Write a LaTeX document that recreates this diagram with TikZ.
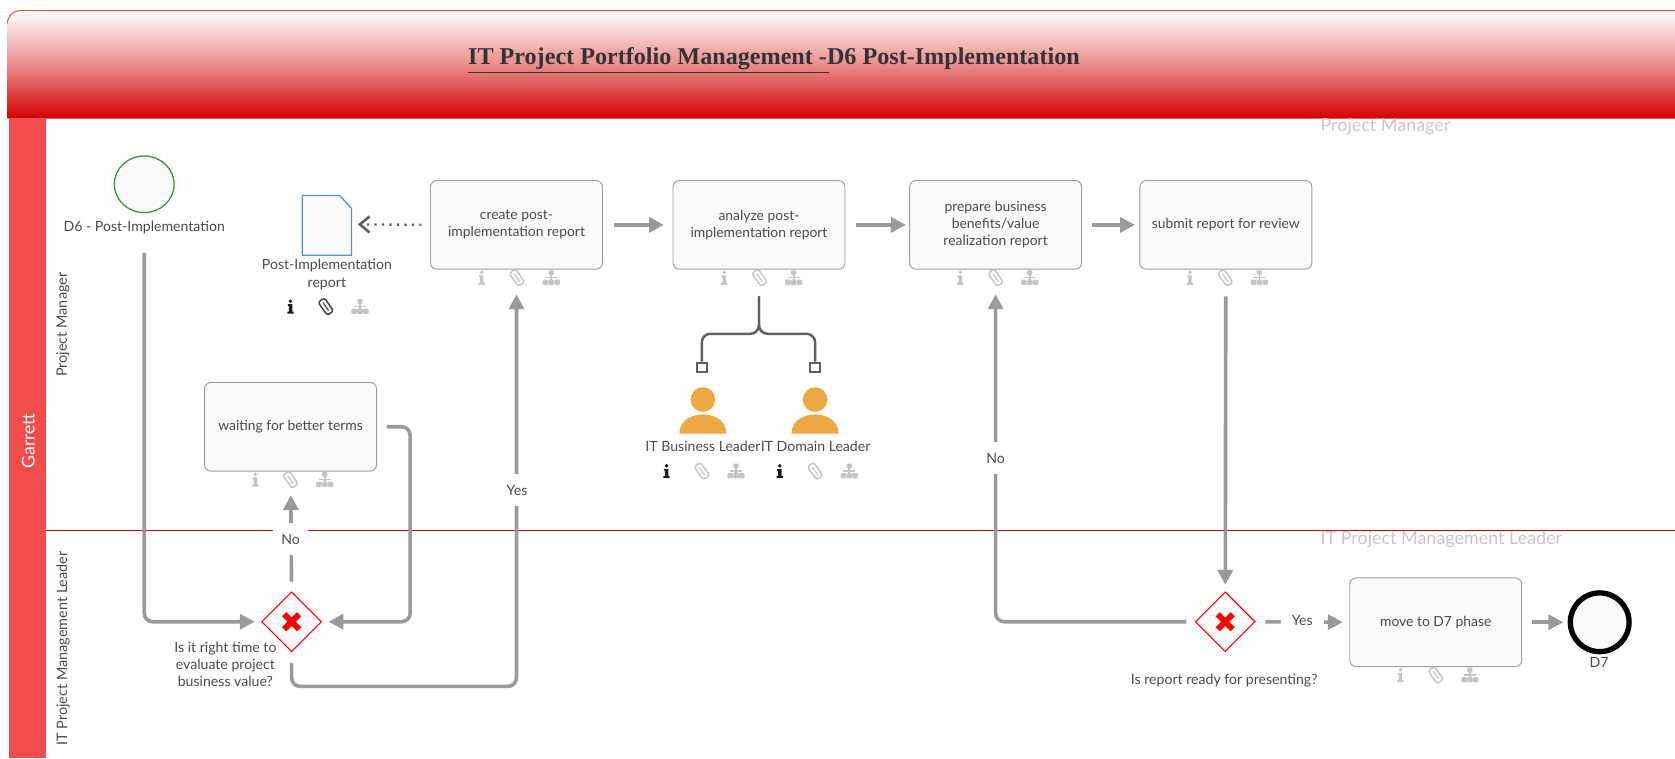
\documentclass[tikz,border=0pt]{standalone}
\usepackage{fontspec}
\setmainfont{Lato}
\newfontfamily\titlefont{Liberation Serif}
\usetikzlibrary{arrows.meta,shapes.geometric,calc}
\definecolor{hdred}{HTML}{D40000}
\definecolor{hdline}{HTML}{E05A5A}
\definecolor{bandred}{HTML}{F04C4C}
\definecolor{flow}{HTML}{9A9A9A}
\definecolor{txt}{HTML}{4A4A4A}
\definecolor{icongrey}{HTML}{C4C4C4}
\definecolor{iconblack}{HTML}{1C1C1C}
\definecolor{orangeperson}{HTML}{EBA843}
\definecolor{assoc}{HTML}{606060}
\definecolor{boxfill}{HTML}{FAFAFA}
\tikzset{
  tasknode/.style={draw=black!38,fill=boxfill,line width=0.9pt,rounded corners=6pt,minimum width=161pt,minimum height=83pt,align=center,text=txt,inner sep=4pt,font=\fontsize{13}{16}\selectfont},
  gatenode/.style={diamond,draw=red,fill=boxfill,line width=1pt,minimum width=56pt,minimum height=56pt,inner sep=0pt,shape aspect=1},
  lab/.style={text=txt,align=center,inner sep=0pt,font=\fontsize{13.2}{16}\selectfont},
  flowlab/.style={fill=white,text=txt,inner sep=3pt,minimum width=32pt,minimum height=30pt,font=\fontsize{13.2}{16}\selectfont},
  lanelab/.style={text=txt,rotate=90,inner sep=0pt,font=\fontsize{13.5}{16}\selectfont},
  toplab/.style={text=black!22,anchor=west,inner sep=0pt,font=\fontsize{16.8}{18}\selectfont},
  flowline/.style={draw=flow,line width=3.4pt,rounded corners=8pt,-{Triangle[length=14pt,width=14pt]}},
  assocline/.style={draw=assoc,line width=2.3pt,rounded corners=8pt},
  assocend/.style={draw=assoc,fill=white,line width=1.8pt,minimum size=9pt,inner sep=0pt},
}
\newcommand\iconinfo[3]{\begin{scope}[shift={(#1,#2)}]
  \fill[#3] (0,-5) circle (1.8pt);
  \fill[#3] (-2.6,-2.2)--(1.6,-2.2)--(1.6,4.6)--(2.9,4.6)--(2.9,6.6)--(-3.1,6.6)--(-3.1,4.6)--(-1.6,4.6)--(-1.6,-0.4)--(-2.6,-0.4)--cycle;
\end{scope}}
\newcommand\iconclip[3]{\begin{scope}[shift={(#1,#2)},rotate=-55]
  \draw[#3,line width=1.4pt,rounded corners=2.5pt] (-7.5,-3.6) rectangle (7.5,3.6);
  \draw[#3,line width=1.1pt] (-4.5,0)--(4.5,0);
\end{scope}}
\newcommand\icontree[3]{\begin{scope}[shift={(#1,#2)}]
  \fill[#3,rounded corners=1pt] (-2.4,-7) rectangle (2.4,-2.6);
  \fill[#3] (-0.8,-3) rectangle (0.8,2);
  \fill[#3] (-5.8,-0.6) rectangle (5.8,0.6);
  \fill[#3,rounded corners=1pt] (-8,1.8) rectangle (-2.9,6.8);
  \fill[#3,rounded corners=1pt] (-2.6,1.8) rectangle (2.6,6.8);
  \fill[#3,rounded corners=1pt] (2.9,1.8) rectangle (8,6.8);
\end{scope}}
\newcommand\iconrow[4]{\iconinfo{#1-33}{#2}{#3}\iconclip{#1}{#2}{icongrey}\icontree{#1+32}{#2}{icongrey}}
\newcommand\redcross[1]{\draw[red,line width=5.5pt] ($(#1)+(-7,-7)$)--($(#1)+(7,7)$) ($(#1)+(-7,7)$)--($(#1)+(7,-7)$);}
\begin{document}
\begin{tikzpicture}[x=1pt,y=-1pt]
\useasboundingbox (0,0) rectangle (1568,710);
% frame
\shade[top color=white,bottom color=hdred,middle color=hdred!45!white] (7,111) -- (7,22) .. controls (7,15) and (12,10) .. (19,10) -- (1568,10) -- (1568,111) -- cycle;
\draw[hdline,line width=1pt] (7,22) .. controls (7,15) and (12,10) .. (19,10) -- (1568,10);
\fill[bandred] (8,111) rectangle (43,710);
\draw[red!90!black,line width=0.9pt] (43,497) -- (1568,497);
\node[text=white,rotate=90,inner sep=0pt,font=\fontsize{16.5}{18}\selectfont] (garrett) at (26.5,412.5) {Garrett};
\node[text=black!80,anchor=base west,inner sep=0pt,font=\titlefont\bfseries\fontsize{22.6}{24}\selectfont] (title) at (438,60) {IT Project Portfolio Management -D6 Post-Implementation};
\draw[black!80,line width=1pt] (438,68) -- (776,68);
\node[lanelab] (lane1) at (59,304) {Project Manager};
\node[lanelab] (lane2) at (59,607) {IT Project Management Leader};
\node[toplab] (top1) at (1236,118.5) {Project Manager};
\node[toplab] (top2) at (1236,505.5) {IT Project Management Leader};
% nodes
\node[ellipse,draw=black!50!green!80!white,fill=boxfill,line width=1.2pt,minimum width=56pt,minimum height=53pt,inner sep=0pt] (start) at (135,172.5) {};
\node[lab] (startlab) at (135,213) {D6 - Post-Implementation};
\node[tasknode] (create) at (483.5,210.5) {create post-\\implementation report};
\node[tasknode] (analyze) at (710.5,210.5) {analyze post-\\implementation report};
\node[tasknode] (prepare) at (932,210.5) {prepare business\\benefits/value\\realization report};
\node[tasknode] (submit) at (1147.5,210.5) {submit report for review};
\node[tasknode] (waiting) at (272,399.5) {waiting for better terms};
\node[tasknode] (move) at (1344,582.5) {move to D7 phase};
\node[gatenode] (gw1) at (273,582) {};
\node[gatenode] (gw2) at (1147,582) {};
\redcross{gw1}
\redcross{gw2}
\node[circle,draw=black,fill=boxfill,line width=5pt,minimum size=55pt,inner sep=0pt] (end) at (1497.5,582.5) {};
\node[lab] (endlab) at (1497,620) {D7};
\node[lab] (gw1lab) at (211,622) {Is it right time to\\evaluate project\\business value?};
\node[lab] (gw2lab) at (1146,637) {Is report ready for presenting?};
% document
\draw[draw=cyan!55!blue!70!white,fill=boxfill,line width=1.2pt] (283,183) -- (318,183) -- (329,195) -- (329,239) -- (283,239) -- cycle;
\coordinate (docright) at (329,210);
\node[lab] (doclab) at (306,257) {Post-Implementation\\report};
% connectors
\draw[flowline,shorten <=10pt,shorten >=8pt] (create.east) -- (analyze.west);
\draw[flowline,shorten <=10pt,shorten >=3pt] (analyze.east) -- (prepare.west);
\draw[flowline,shorten <=9pt,shorten >=4pt] (prepare.east) -- (submit.west);
\draw[flowline,shorten <=37pt,shorten >=6pt] (start.south) |- (gw1.west);
\draw[flowline,shorten <=9pt,shorten >=6pt] (waiting.east) -- ++(31,0) |- (gw1.east);
\draw[flowline,shorten <=9pt,shorten >=22pt] (gw1.north) -- (waiting.south);
\draw[flowline,shorten <=10pt,shorten >=23pt] (gw1.south) -- ++(0,32) -| (create.south);
\draw[flowline,shorten <=25pt,shorten >=6pt] (submit.south) -- (gw2.north);
\draw[flowline,shorten <=8pt,shorten >=23pt] (gw2.west) -| (prepare.south);
\draw[flowline,shorten <=9pt,shorten >=6pt] (gw2.east) -- (move.west);
\draw[flowline,shorten <=9pt,shorten >=4pt] (move.east) -- (end.west);
\draw[draw=assoc,line width=2.2pt,dash pattern=on 2pt off 5pt,shorten <=8pt,shorten >=6pt,-{Straight Barb[length=9pt,width=15pt,line width=2.5pt]}] (create.west) -- (docright);
\node[flowlab] (no1) at (272,505) {No};
\node[flowlab] (yes1) at (484,459) {Yes};
\node[flowlab] (no2) at (932,429) {No};
\node[flowlab,minimum width=40pt] (yes2) at (1219,581) {Yes};
% resources
\node[assocend] (sq1) at (657,344) {};
\node[assocend] (sq2) at (763,344) {};
\draw[assocline,shorten <=25pt] (analyze.south) -- ++(0,60) -| (sq1.north);
\draw[assocline,shorten <=25pt] (analyze.south) -- ++(0,60) -| (sq2.north);
\foreach \px/\pn in {658/p1,763/p2}{
  \node[circle,fill=orangeperson,minimum size=23pt,inner sep=0pt] (\pn) at (\px,374) {};
  \fill[orangeperson] (\px-22,406) .. controls (\px-22,393) and (\px-10,388) .. (\px,388) .. controls (\px+10,388) and (\px+22,393) .. (\px+22,406) -- cycle;
}
\node[lab] (p1lab) at (658,418) {IT Business Leader};
\node[lab] (p2lab) at (763.5,418) {IT Domain Leader};
% icons
\iconrow{484}{260}{icongrey}{}
\iconrow{711}{260}{icongrey}{}
\iconrow{932}{260}{icongrey}{}
\iconrow{1147}{260}{icongrey}{}
\iconrow{272}{449}{icongrey}{}
\iconrow{1344}{632}{icongrey}{}
\iconrow{305}{287}{iconblack}{}
\iconrow{657}{441}{iconblack}{}
\iconrow{763}{441}{iconblack}{}
\iconclip{305}{287}{iconblack!80}
\end{tikzpicture}
\end{document}
